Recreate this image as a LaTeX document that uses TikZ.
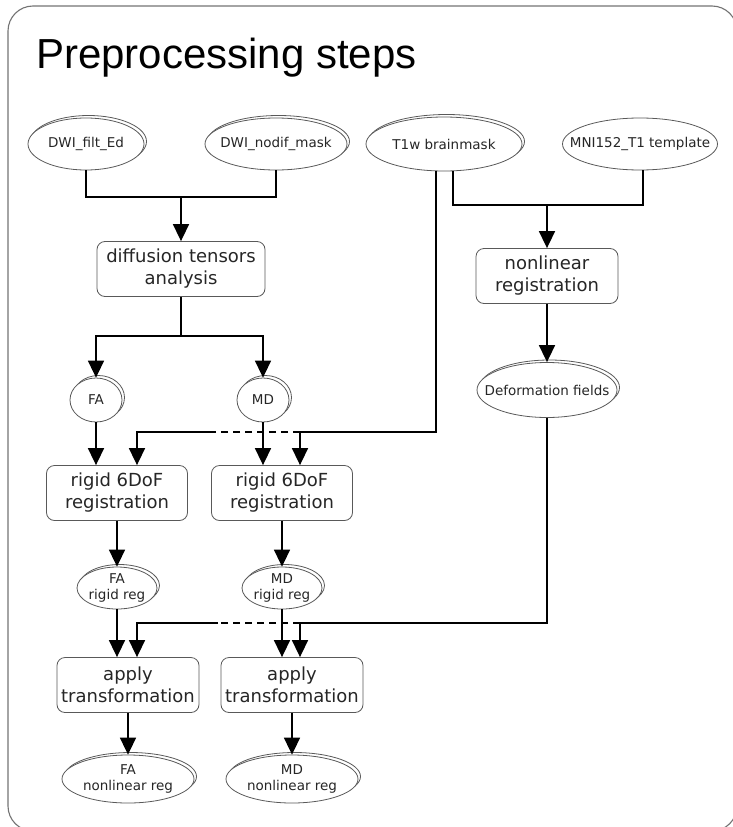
\documentclass[tikz,border=0pt]{standalone}
\usepackage{fontspec}
\setmainfont{DejaVu Sans}
\newfontfamily\titlefont{Liberation Sans}
\usetikzlibrary{shapes.geometric,arrows.meta,shadows}

\tikzset{
    frame/.style={draw=black!55, line width=1.1pt, rounded corners=25pt},
    heading/.style={anchor=base west, inner sep=0pt, font=\titlefont\fontsize{42}{42}\selectfont},
    datafile/.style={ellipse, draw=black!65, line width=0.8pt, fill=white, text=black!85,
        inner xsep=-40pt, inner ysep=-15pt, align=center, font=\fontsize{13.5}{16}\selectfont},
    stacked/.style={general shadow={shadow xshift=2.5pt, shadow yshift=2.5pt,
        draw=black!65, line width=0.8pt, fill=white}},
    stepbox/.style={rectangle, rounded corners=8pt, draw=black!65, line width=0.8pt, fill=white,
        text=black!85, inner sep=1pt, align=center, minimum width=142pt, minimum height=55pt,
        font=\fontsize{18}{22}\selectfont},
    wire/.style={line width=1.6pt},
    feed/.style={wire, -{Triangle[length=17pt,width=16pt]}},
}

\begin{document}
\begin{tikzpicture}[x=1pt,y=-1pt]
    \useasboundingbox (0,0) rectangle (732,827);

    % Outer frame and heading
    \draw[frame] (8,6) rectangle (737,831);
    \node[heading] (title) at (36,68) {Preprocessing steps};

    % Input images
    \node[datafile, stacked, minimum width=116pt, minimum height=52pt] (dwifilt) at (86,144) {DWI\_filt\_Ed};
    \node[datafile, stacked, minimum width=142pt, minimum height=52pt] (dwimask) at (276,144) {DWI\_nodif\_mask};
    \node[datafile, stacked, minimum width=156pt, minimum height=54pt] (t1w) at (444,144) {T1w brainmask};
    \node[datafile, minimum width=155pt, minimum height=52pt] (mni) at (640,144) {MNI152\_T1 template};

    % Processing steps
    \node[stepbox, minimum width=168pt] (tensor) at (181,269) {diffusion tensors\\analysis};
    \node[stepbox] (nonlin) at (547,276) {nonlinear\\registration};
    \node[stepbox, minimum width=141pt] (rigidfa) at (117,493) {rigid 6DoF\\registration};
    \node[stepbox, minimum width=141pt] (rigidmd) at (282,493) {rigid 6DoF\\registration};
    \node[stepbox] (applyfa) at (128,685) {apply\\transformation};
    \node[stepbox] (applymd) at (292,685) {apply\\transformation};

    % Intermediate and output images
    \node[datafile, stacked, minimum width=52pt, minimum height=44pt] (fa) at (96,400) {FA};
    \node[datafile, stacked, minimum width=52pt, minimum height=44pt] (md) at (263,400) {MD};
    \node[datafile, stacked, minimum width=140pt, minimum height=55pt] (deform) at (547,390) {Deformation fields};
    \node[datafile, stacked, minimum width=80pt, minimum height=42pt] (farig) at (117,588) {FA\\rigid reg};
    \node[datafile, stacked, minimum width=80pt, minimum height=42pt] (mdrig) at (282,588) {MD\\rigid reg};
    \node[datafile, stacked, minimum width=132pt, minimum height=48pt] (fanl) at (128,779) {FA\\nonlinear reg};
    \node[datafile, stacked, minimum width=132pt, minimum height=48pt] (mdnl) at (292,779) {MD\\nonlinear reg};

    % Junction points
    \coordinate (jdwi) at (181,197);
    \coordinate (jtensor) at (181,336);
    \coordinate (jmni) at (547,205);
    \coordinate (t1drop) at (300,432);
    \coordinate (t1gap) at (213,432);
    \coordinate (t1left) at (137,432);
    \coordinate (dfdrop) at (300,623);
    \coordinate (dfgap) at (218,623);
    \coordinate (dfleft) at (137,623);

    % Tensor fit
    \draw[wire] (dwifilt.south) |- (jdwi) -| (dwimask.south);
    \draw[feed] (jdwi) -- (tensor.north);
    \draw[wire] (tensor.south) -- (jtensor);
    \draw[feed] (jtensor) -| (fa.north);
    \draw[feed] (jtensor) -| (md.north);

    % Template registration
    \draw[wire] ([xshift=9pt]t1w.south) |- (jmni) -| ([xshift=3pt]mni.south);
    \draw[feed] (jmni) -- (nonlin.north);

    % Brainmask to rigid steps (dashed where it crosses)
    \draw[wire] ([xshift=-8pt]t1w.south) |- (t1drop);
    \draw[wire, dash pattern=on 7pt off 5pt] (t1drop) -- (t1gap);
    \draw[feed] (t1gap) -| (t1left |- rigidfa.north);
    \draw[feed] (t1drop) -- (t1drop |- rigidmd.north);

    % Deformation fields to apply steps
    \draw[wire] (deform.south) |- (dfdrop);
    \draw[wire, dash pattern=on 7pt off 5pt] (dfdrop) -- (dfgap);
    \draw[feed] (dfgap) -| (dfleft |- applyfa.north);
    \draw[feed] (dfdrop) -- (dfdrop |- applymd.north);

    % Straight feeds down the columns
    \foreach \a/\b in {nonlin/deform, rigidfa/farig, rigidmd/mdrig, applyfa/fanl, applymd/mdnl}
        \draw[feed] (\a.south) -- (\b.north);
    \foreach \a/\b in {fa/rigidfa, md/rigidmd, farig/applyfa, mdrig/applymd}
        \draw[feed] (\a.south) -- (\a.south |- \b.north);
\end{tikzpicture}
\end{document}
